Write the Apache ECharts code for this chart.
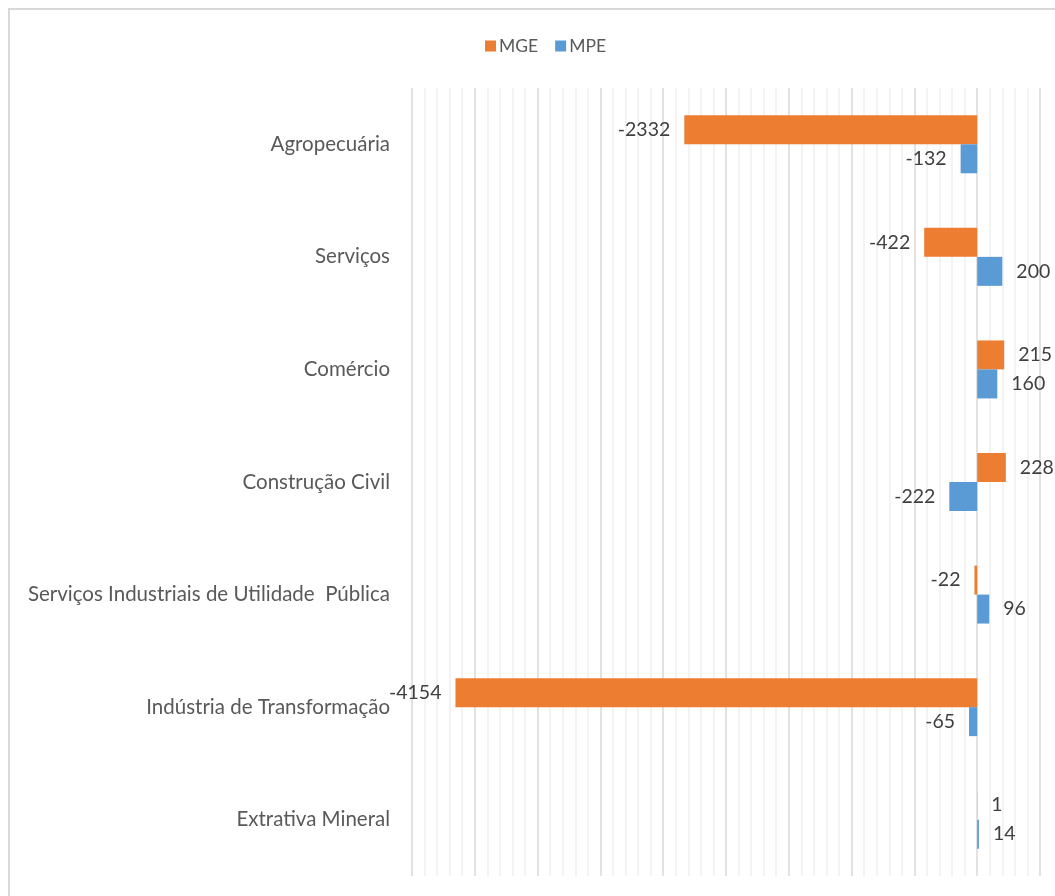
<!DOCTYPE html>
<html>
<head>
<meta charset="utf-8">
<script src="https://cdn.jsdelivr.net/npm/echarts@6/dist/echarts.min.js"></script>
<style>
html,body{margin:0;padding:0;background:#fff;}
#c{width:1055px;height:896px;}
</style>
</head>
<body>
<div id="c"></div>
<script>
const categories = ['Agropecuária','Serviços','Comércio','Construção Civil','Serviços Industriais de Utilidade  Pública','Indústria de Transformação','Extrativa Mineral'];
const mge = [-2332, -422, 215, 228, -22, -4154, 1];
const mpe = [-132, 200, 160, -222, 96, -65, 14];
const axisMin = -4500, axisMax = 500, axisInterval = 500;

function withLabels(arr){
  return arr.map(v => ({value: v, label: {position: v < 0 ? 'left' : 'right'}}));
}
const FONT = 'Lato';
const chart = echarts.init(document.getElementById('c'));
chart.setOption({
  animation: false,
  textStyle: {fontFamily: FONT},
  graphic: [{type:'rect', shape:{x:9,y:9,width:1070,height:910}, style:{fill:'none', stroke:'#d9d9d9', lineWidth:2}, silent:true}],
  legend: {
    top: 32, left: 480, itemWidth: 11, itemHeight: 11, itemGap: 17,
    icon: 'rect',
    textStyle: {fontSize: 17.5, color: '#595959', fontFamily: FONT, padding: [0,0,0,-2]},
    data: ['MGE','MPE']
  },
  grid: {left: 412, right: 15, top: 88, bottom: 20, containLabel: false},
  xAxis: {
    type: 'value', min: axisMin, max: axisMax, interval: axisInterval,
    axisLabel: {show: false}, axisTick: {show: false}, axisLine: {show: false},
    splitLine: {show: true, lineStyle: {color: '#d9d9d9', width: 1.5}},
    minorTick: {show: false, splitNumber: 5},
    minorSplitLine: {show: true, lineStyle: {color: '#f0f0f0', width: 1.5}}
  },
  yAxis: {
    type: 'category', data: categories, inverse: true,
    axisLine: {show: false}, axisTick: {show: false},
    axisLabel: {fontSize: 20.5, color: '#595959', margin: 22, fontFamily: FONT}
  },
  series: [
    {name: 'MGE', type: 'bar', data: withLabels(mge), barWidth: 29, barGap: '0%',
     itemStyle: {color: '#ed7d31'},
     label: {show: true, distance: 14, fontSize: 19.5, color: '#404040', fontFamily: FONT}},
    {name: 'MPE', type: 'bar', data: withLabels(mpe), barWidth: 29, barGap: '0%',
     itemStyle: {color: '#5b9bd5'},
     label: {show: true, distance: 14, fontSize: 19.5, color: '#404040', fontFamily: FONT}}
  ]
});
</script>
</body>
</html>
